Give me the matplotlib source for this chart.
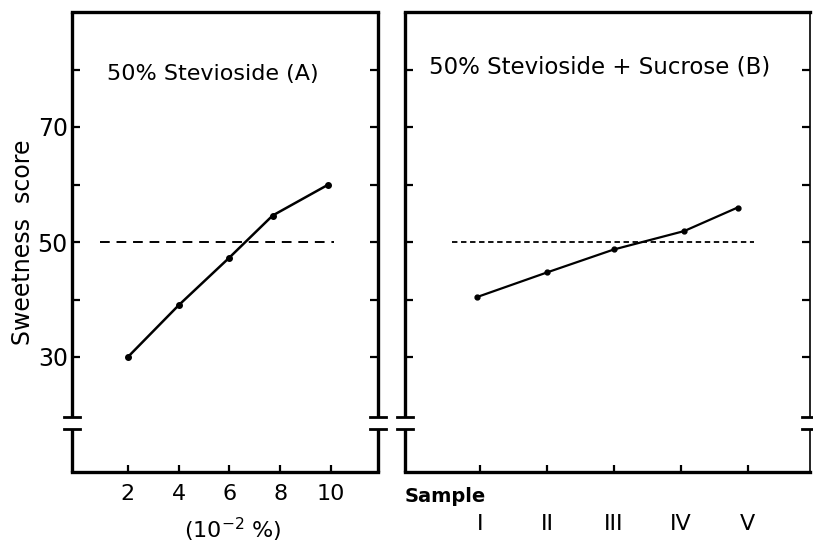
import numpy as np
import matplotlib.pyplot as plt

# data
conc_A = [2, 4, 6, 7.7, 9.9]            # (10^-2 %)
score_A = [30, 39, 47.3, 54.6, 60]
sample_pos = [1, 2, 3, 4, 5]
sample_labels = ['I', 'II', 'III', 'IV', 'V']
x_B = [0.95, 2.0, 3.0, 4.05, 4.85]
score_B = [40.4, 44.7, 48.7, 51.9, 56.0]
ref_score = 50

ymin, ymax = 10, 90
brk_lo, brk_hi = 17.4, 19.5

fig = plt.figure(figsize=(8.13, 5.43), dpi=100)
W, H = 813, 543
ax1 = fig.add_axes([72 / W, 1 - 472 / H, (378 - 72) / W, (472 - 12) / H])
ax2 = fig.add_axes([405 / W, 1 - 472 / H, (810 - 405) / W, (472 - 12) / H])


def broken_spines(ax, width_px, lw=2.4, right_lw=2.4):
    # draw left/right spines with a break between brk_lo and brk_hi
    ax.spines['left'].set_visible(False)
    ax.spines['right'].set_visible(False)
    f = lambda v: (v - ymin) / (ymax - ymin)
    bar = 8 / width_px
    for xs, w in ((0, lw), (1, right_lw)):
        ax.plot([xs, xs], [0, f(brk_lo)], color='black', lw=w,
                transform=ax.transAxes, clip_on=False, solid_capstyle='butt')
        ax.plot([xs, xs], [f(brk_hi), 1], color='black', lw=w,
                transform=ax.transAxes, clip_on=False, solid_capstyle='butt')
        for yv in (brk_lo, brk_hi):
            ax.plot([xs - bar, xs + bar], [f(yv), f(yv)], color='black', lw=2,
                    transform=ax.transAxes, clip_on=False)


for ax in (ax1, ax2):
    ax.set_ylim(ymin, ymax)
    ax.spines['top'].set_linewidth(2.4)
    ax.spines['bottom'].set_linewidth(2.4)
    ax.set_yticks([30, 40, 50, 60, 70, 80])
    ax.tick_params(axis='y', direction='in', length=6, width=1.6,
                   left=True, right=True)
    ax.tick_params(axis='x', direction='in', length=5, width=1.6)

broken_spines(ax1, 306)
broken_spines(ax2, 405, right_lw=1.2)

# left panel
ax1.set_xlim(-0.2, 11.85)
ax1.plot(conc_A, score_A, '-o', color='black', lw=1.8, ms=4)
ax1.plot([0.9, 10.1], [ref_score, ref_score], color='black', lw=1.4,
         dashes=(5, 3.5))
ax1.set_xticks([2, 4, 6, 8, 10])
ax1.tick_params(axis='x', labelsize=16, pad=9)
ax1.set_yticklabels(['30', '', '50', '', '70', ''], fontsize=17)
ax1.tick_params(axis='y', pad=3)
ax1.set_ylabel('Sweetness  score', fontsize=17, labelpad=2)
ax1.text(0.115, 0.865, '50% Stevioside (A)', transform=ax1.transAxes,
         fontsize=16, va='center', ha='left')

# right panel
ax2.set_xlim(-0.12, 5.93)
ax2.plot(x_B, score_B, '-o', color='black', lw=1.6, ms=3.5)
ax2.plot([0.58, 5.1], [ref_score, ref_score], color='black', lw=1.3,
         dashes=(3, 2))
ax2.set_xticks(sample_pos)
ax2.set_xticklabels(sample_labels, fontsize=16)
ax2.tick_params(axis='x', pad=30)
ax2.set_yticklabels([])
ax2.text(0.06, 0.88, '50% Stevioside + Sucrose (B)', transform=ax2.transAxes,
         fontsize=16.5, va='center', ha='left')

fig.text(405 / W, 1 - 496 / H, 'Sample', fontsize=14, fontweight='bold',
         ha='left', va='center')
fig.text(233 / W, 1 - 530 / H, '(10$^{-2}$ %)', fontsize=16,
         ha='center', va='center')

fig.savefig('out.png', dpi=100)
